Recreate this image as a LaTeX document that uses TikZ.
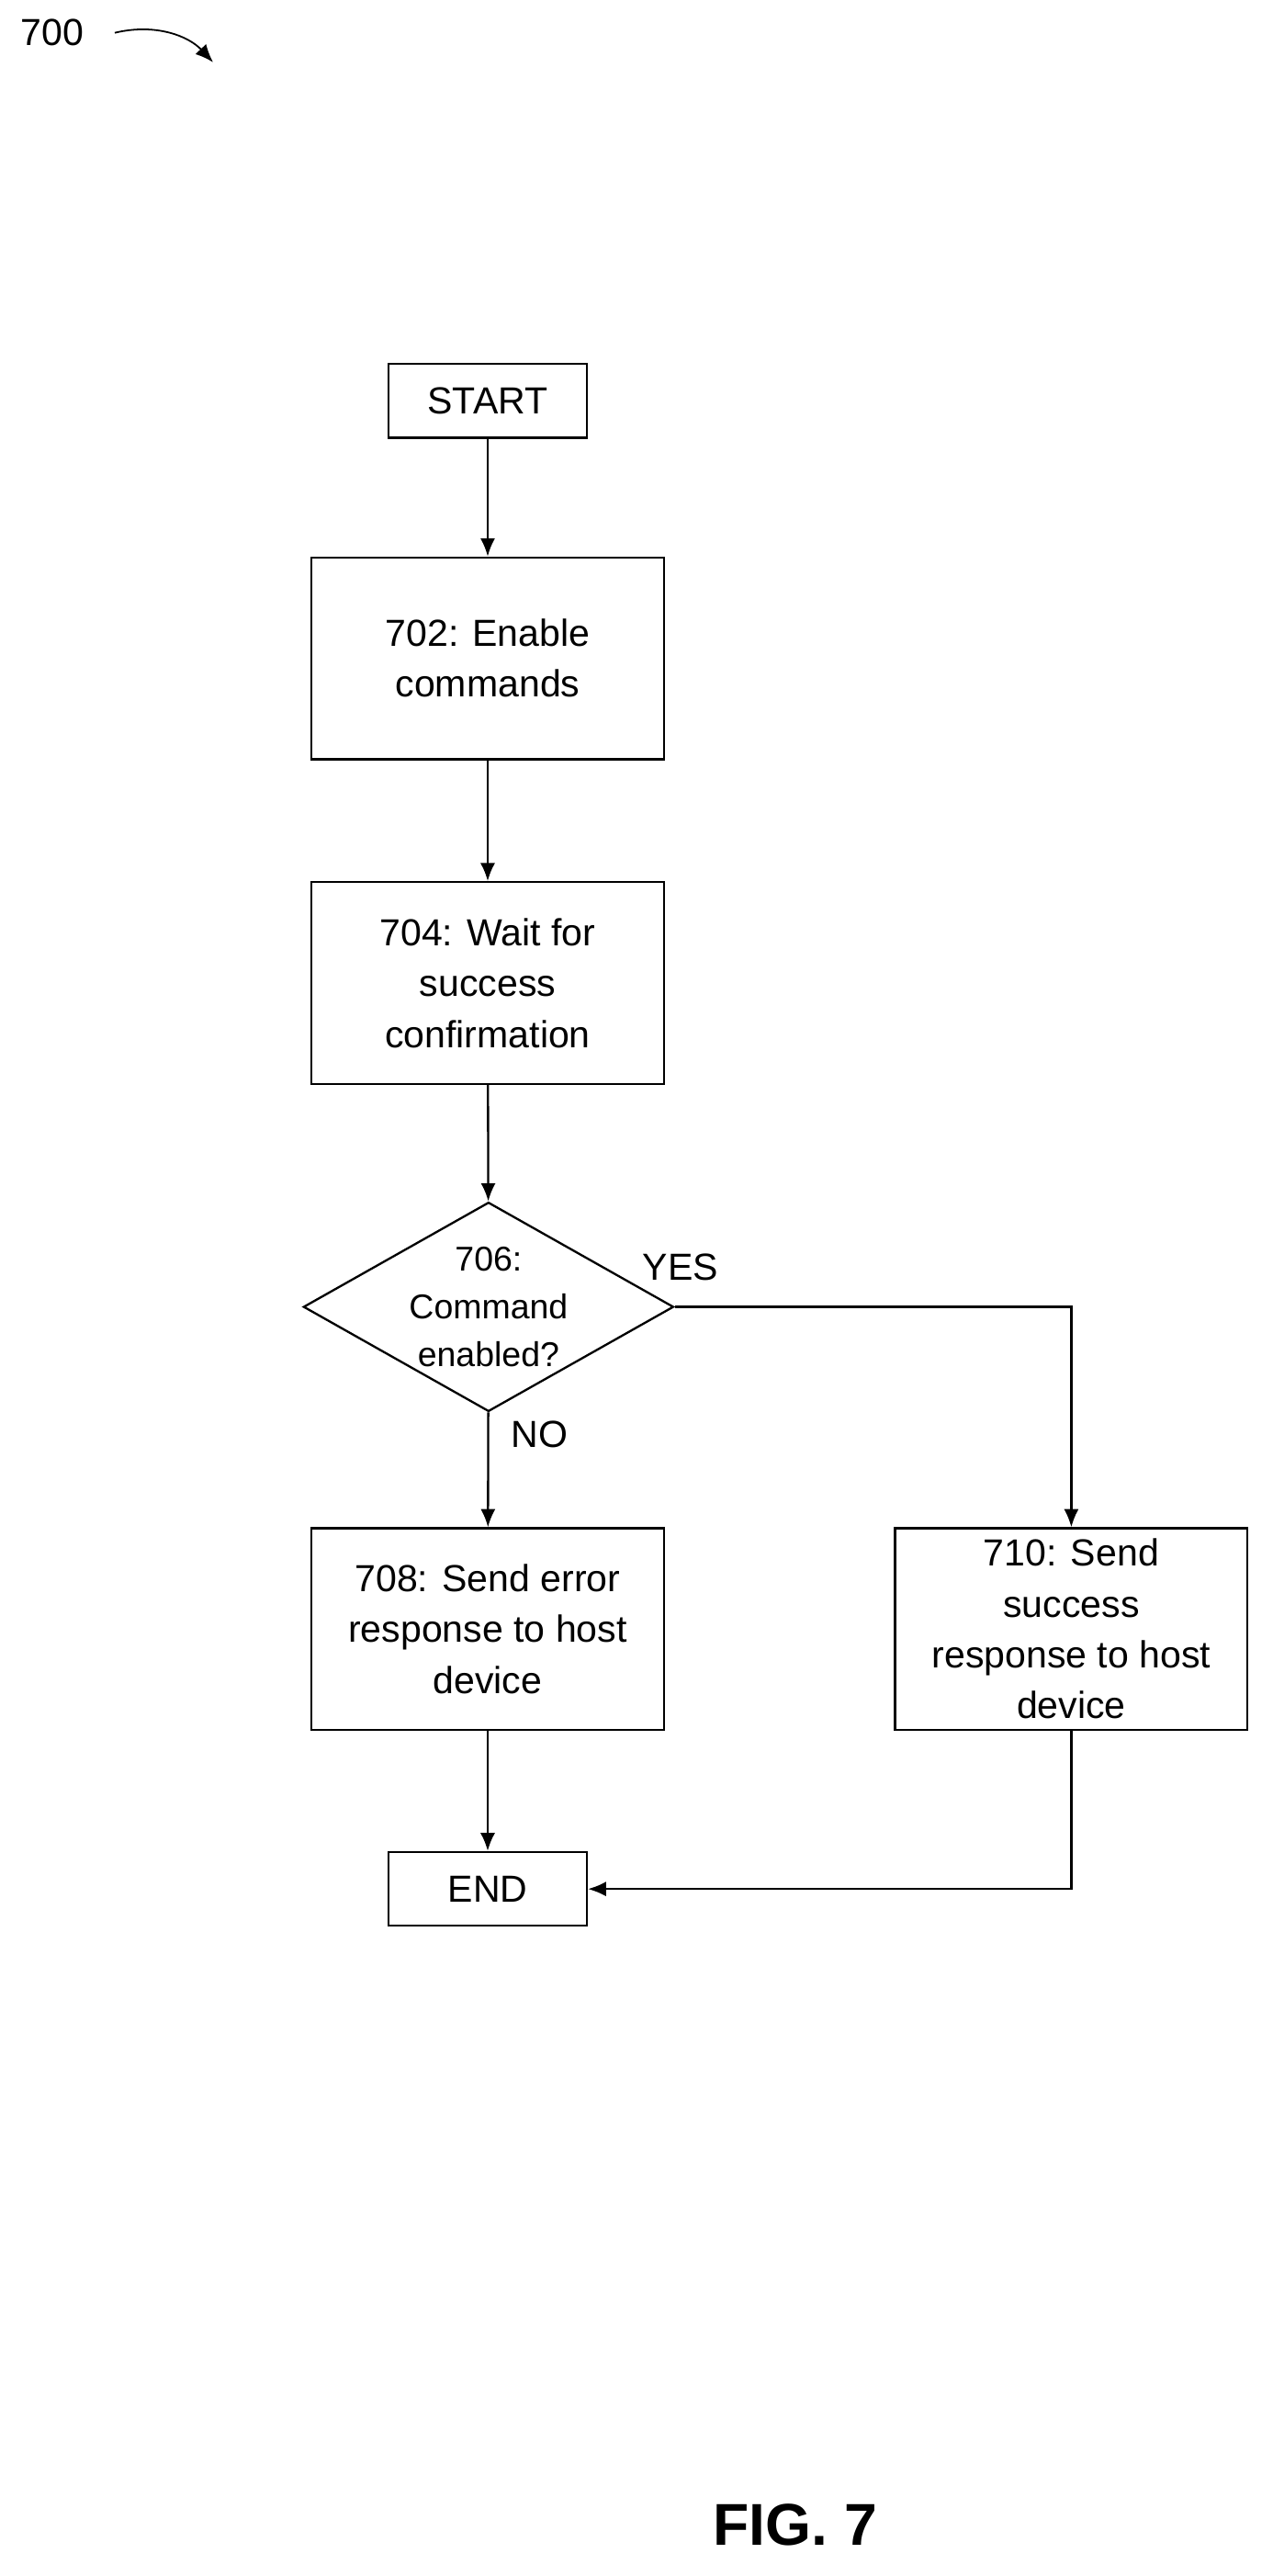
\documentclass[tikz,border=0pt]{standalone}
\usepackage{fontspec}
\setmainfont{Liberation Sans}
\usetikzlibrary{shapes.geometric,arrows.meta}
\begin{document}
\begin{tikzpicture}[x=1pt,y=-1pt,
  box/.style={draw,line width=1.3pt,minimum width=215pt,minimum height=123pt,align=center,inner sep=2pt,font=\fontsize{23}{31}\selectfont},
  term/.style={draw,line width=1.3pt,minimum width=121pt,minimum height=45pt,font=\fontsize{23}{27}\selectfont},
  arr/.style={line width=1.3pt,-{Latex[length=11pt,width=9pt]}},
  lbl/.style={font=\fontsize{23}{27}\selectfont}]
\useasboundingbox (0,0) rectangle (776,1571);
\node[lbl] (n700) at (32,20) {700};
\coordinate (a1) at (70,20);
\coordinate (a2) at (130,38);
\draw[arr,line width=1pt] (a1) .. controls (95,14) and (115,22) .. (a2);
\node[term] (start) at (297.5,244.5) {START};
\node[box] (b702) at (297.5,401.5) {702: Enable\\commands};
\node[box] (b704) at (297.5,599.5) {704: Wait for\\success\\confirmation};
\node[diamond,draw,line width=1.3pt,minimum width=216pt,minimum height=122pt,aspect=1.77,inner sep=0pt,align=center,font=\fontsize{21}{29}\selectfont] (d706) at (298,797) {706:\\Command\\enabled?};
\node[box] (b708) at (297.5,993.5) {708: Send error\\response to host\\device};
\node[box] (b710) at (653.5,993.5) {710: Send\\success\\response to host\\device};
\node[term] (end) at (297.5,1152) {END};
\node[lbl] (yes) at (415,773) {YES};
\node[lbl] (no) at (329,875) {NO};
\node[font=\bfseries\fontsize{36}{40}\selectfont] (fig) at (485,1540) {FIG. 7};
\draw[arr] (start) -- (b702);
\draw[arr] (b702) -- (b704);
\draw[arr] (b704) -- (d706);
\draw[arr] (d706) -- (b708);
\draw[arr] (d706.east) -| (b710.north);
\draw[arr] (b708) -- (end);
\draw[arr] (b710.south) |- (end.east);
\end{tikzpicture}
\end{document}
